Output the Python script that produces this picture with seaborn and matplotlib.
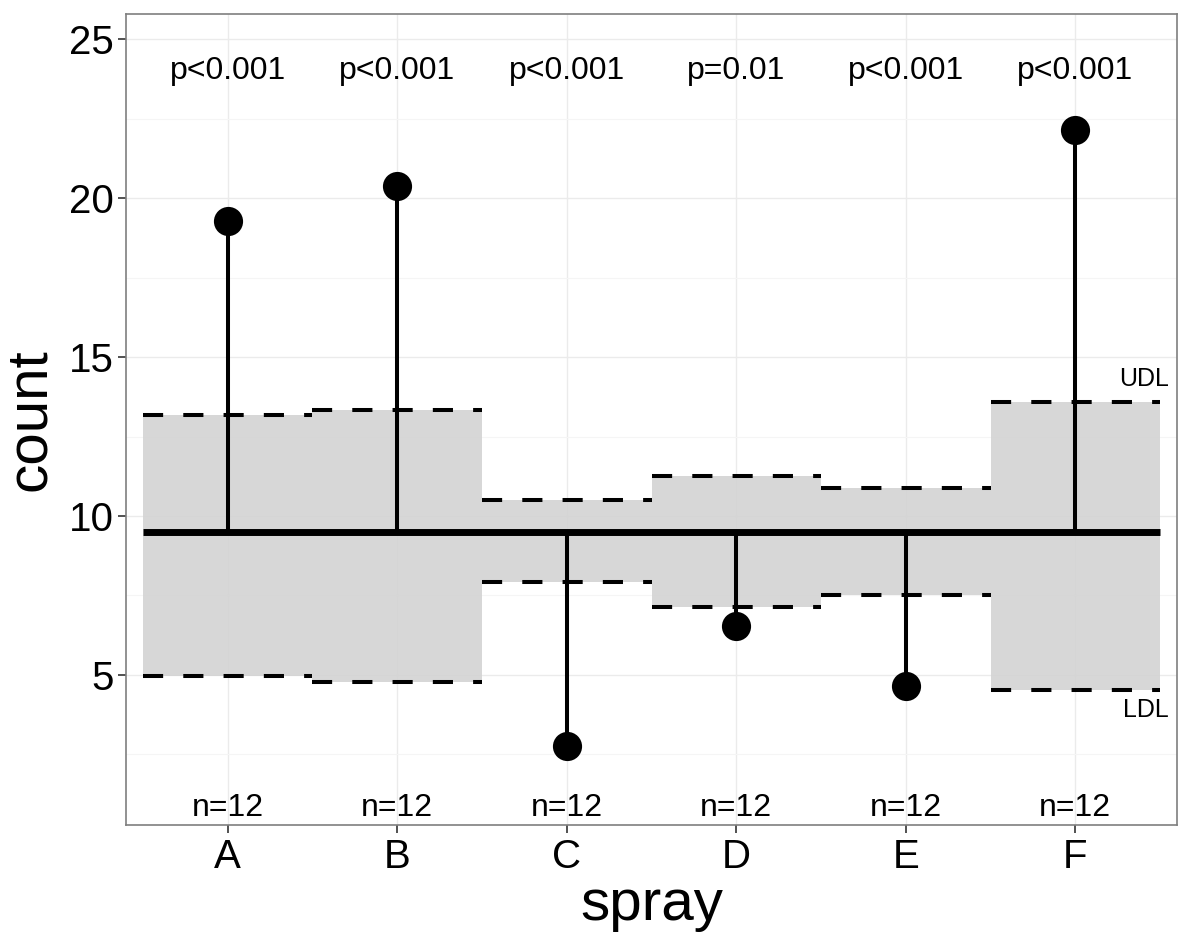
import numpy as np
import pandas as pd
import matplotlib
matplotlib.use("Agg")
import matplotlib.pyplot as plt
import seaborn as sns

# values
spray = ["A", "B", "C", "D", "E", "F"]
group_mean = [19.28, 20.38, 2.78, 6.54, 4.65, 22.14]
udl = [13.18, 13.32, 10.50, 11.25, 10.89, 13.58]
ldl = [4.97, 4.79, 7.93, 7.14, 7.52, 4.53]
p_labels = ["p<0.001", "p<0.001", "p<0.001", "p=0.01", "p<0.001", "p<0.001"]
n_labels = ["n=12"] * 6
center = 9.5

df = pd.DataFrame({"spray": spray, "count": group_mean, "udl": udl, "ldl": ldl})
df["pos"] = np.arange(len(df))

sns.set_theme(style="white")
plt.rcParams["font.family"] = ["Liberation Sans", "DejaVu Sans"]
plt.rcParams["text.color"] = "black"
plt.rcParams["axes.labelcolor"] = "black"

fig = plt.figure(figsize=(11.8, 9.38), dpi=100)
ax = fig.add_axes([126 / 1180, 1 - 825 / 938, (1177 - 126) / 1180, (825 - 14) / 938])

# grid like theme_bw
ax.set_axisbelow(True)
ax.set_yticks([5, 10, 15, 20, 25])
ax.set_yticks(np.arange(2.5, 25, 5), minor=True)
ax.grid(True, which="major", color="#EBEBEB", lw=1.0)
ax.grid(True, which="minor", axis="y", color="#F5F5F5", lw=0.8)

# decision limit bands
ax.bar(df["pos"], df["udl"] - df["ldl"], bottom=df["ldl"], width=1.0,
       color="#D3D3D3", alpha=0.9, edgecolor="none", zorder=1)
for _, r in df.iterrows():
    for lim in (r["udl"], r["ldl"]):
        ax.plot([r["pos"] - 0.5, r["pos"] + 0.5], [lim, lim], color="black",
                lw=2.9, dashes=(5, 5), solid_capstyle="butt",
                dash_capstyle="butt", zorder=2)

# center line and stems
ax.plot([df["pos"].min() - 0.5, df["pos"].max() + 0.5], [center, center],
        color="black", lw=5, solid_capstyle="butt", zorder=3)
ax.vlines(df["pos"], center, df["count"], color="black", lw=2.9, zorder=4)
sns.scatterplot(data=df, x="pos", y="count", color="black", s=21 ** 2,
                edgecolor="black", linewidth=0, zorder=5, ax=ax)

for i in range(len(df)):
    ax.text(i, 24.0, p_labels[i], ha="center", va="center", fontsize=23, color="black")
    ax.text(i, 0.82, n_labels[i], ha="center", va="center", fontsize=23, color="black")
ax.text(5.55, 14.3, "UDL", ha="right", va="center", fontsize=18, color="black")
ax.text(5.55, 3.9, "LDL", ha="right", va="center", fontsize=18, color="black")

ax.set_xlim(-0.6, 5.6)
ax.set_ylim(0.28, 25.79)
ax.set_xticks(df["pos"])
ax.set_xticklabels(spray)
ax.tick_params(axis="both", which="major", labelsize=29, length=6, width=1.2,
               color="#333333", labelcolor="black", bottom=True, left=True, pad=3)
ax.tick_params(axis="y", which="minor", length=0)
ax.set_xlabel("spray", fontsize=42, labelpad=2, color="black")
ax.set_ylabel("count", fontsize=42, labelpad=8, color="black")
for s in ax.spines.values():
    s.set_color("#7F7F7F")
    s.set_linewidth(1.2)

fig.savefig("out.png", dpi=100)
